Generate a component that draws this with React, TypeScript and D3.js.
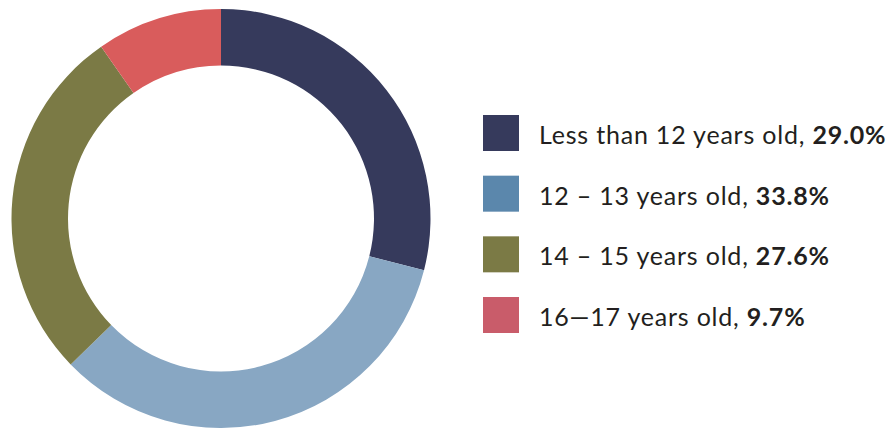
import React from "react";
import * as d3 from "d3";

const categories = ["Less than 12 years old", "12 – 13 years old", "14 – 15 years old", "16—17 years old"];
const values = [29.0, 33.8, 27.6, 9.7];
const valueLabels = ["29.0%", "33.8%", "27.6%", "9.7%"];
const sliceColors = ["#363a5c", "#88a7c3", "#7b7a45", "#d95c5c"];
const legendColors = ["#363a5c", "#5b87ac", "#7b7a45", "#c95c6a"];

export default function App() {
  const W = 889, H = 428;
  const cx = 221, cy = 218.5, R = 209.5, r = 153;
  const pie = d3.pie<number>().sort(null).value((d) => d);
  const arcs = pie(values);
  const arc = d3.arc<d3.PieArcDatum<number>>().innerRadius(r).outerRadius(R);
  const rowY = d3.scaleLinear().domain([0, 3]).range([115, 297]);
  const font = "Lato, 'DejaVu Sans', sans-serif";
  return (
    <svg width={W} height={H} style={{ position: "absolute", left: 0, top: 0, background: "#fff" }}>
      <g transform={`translate(${cx},${cy})`}>
        {arcs.map((a, i) => (
          <path key={i} d={arc(a) as string} fill={sliceColors[i]} />
        ))}
      </g>
      {categories.map((c, i) => (
        <g key={i}>
          <rect x={483} y={rowY(i)} width={36} height={36} fill={legendColors[i]} />
          <text x={539} y={rowY(i) + 29} fontFamily={font} fontSize={25} letterSpacing={0.8} fill="#231f20">
            <tspan>{c}, </tspan>
            <tspan fontWeight="bold">{valueLabels[i]}</tspan>
          </text>
        </g>
      ))}
    </svg>
  );
}
